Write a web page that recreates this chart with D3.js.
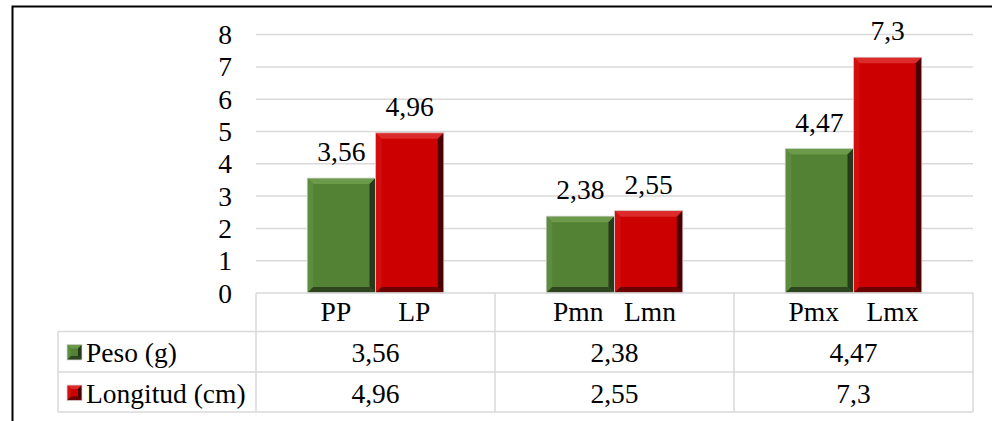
<!DOCTYPE html>
<html>
<head>
<meta charset="utf-8">
<script src="https://cdn.jsdelivr.net/npm/d3@7/dist/d3.min.js"></script>
<style>
  body { margin: 0; padding: 0; background: #fff; }
</style>
</head>
<body>
<div id="chart"></div>
<script>
// data
var categories = ["PP       LP", "Pmn   Lmn", "Pmx    Lmx"];
var seriesNames = ["Peso (g)", "Longitud (cm)"];
var peso = [3.56, 2.38, 4.47];
var longitud = [4.96, 2.55, 7.3];
var yTicks = [0, 1, 2, 3, 4, 5, 6, 7, 8];

var seriesValues = [peso, longitud];
var colors = [
  { face: "#548235", top: "#6b9a4b", left: "#5c8c3d", right: "#26391a", bottom: "#2e4620" },
  { face: "#cc0000", top: "#dd2a2a", left: "#d20e0e", right: "#4a0000", bottom: "#6a0000" }
];

var W = 992, H = 421;
var fs = 27.5;
var fontFam = "'Liberation Serif', 'Times New Roman', Times, 'DejaVu Serif', serif";
var fmt = function (v) { return String(v).replace(".", ","); };

var svg = d3.select("#chart").append("svg")
    .attr("width", W)
    .attr("height", H)
    .attr("font-family", fontFam)
    .style("font-family", fontFam);

// outer chart border (only left and top are inside the crop)
svg.append("path")
    .attr("d", "M12.5,421 L12.5,6.5 L992,6.5")
    .attr("fill", "none")
    .attr("stroke", "#000")
    .attr("stroke-width", 2);

var plotLeft = 256, plotRight = 973;
var y = d3.scaleLinear().domain([0, 8]).range([293, 34.6]);
var x0 = d3.scaleBand().domain(categories).range([plotLeft, plotRight]);
var x1 = d3.scaleBand().domain(seriesNames).range([0, x0.bandwidth()]).paddingOuter(0.75);

// gridlines
svg.append("g").selectAll("line")
    .data(yTicks.filter(function (t) { return t > 0; }))
    .enter().append("line")
    .attr("x1", plotLeft)
    .attr("x2", plotRight)
    .attr("y1", function (d) { return y(d); })
    .attr("y2", function (d) { return y(d); })
    .attr("stroke", "#d9d9d9")
    .attr("stroke-width", 1.5);

// y tick labels
svg.append("g").selectAll("text")
    .data(yTicks)
    .enter().append("text")
    .attr("x", 225)
    .attr("y", function (d) { return y(d) + 9.5; })
    .attr("text-anchor", "middle")
    .attr("font-size", fs)
    .text(function (d) { return d; });

// bevelled bar
function bevelBar(g, x, yy, w, h, c, b) {
    b = Math.min(b, h / 2, w / 2);
    g.append("rect").attr("x", x).attr("y", yy).attr("width", w).attr("height", h).attr("fill", c.face);
    var pts = function (a) { return a.map(function (p) { return p.join(","); }).join(" "); };
    g.append("polygon").attr("fill", c.top)
        .attr("points", pts([[x, yy], [x + w, yy], [x + w - b, yy + b], [x + b, yy + b]]));
    g.append("polygon").attr("fill", c.left)
        .attr("points", pts([[x, yy], [x + b, yy + b], [x + b, yy + h - b], [x, yy + h]]));
    g.append("polygon").attr("fill", c.right)
        .attr("points", pts([[x + w, yy], [x + w, yy + h], [x + w - b, yy + h - b], [x + w - b, yy + b]]));
    g.append("polygon").attr("fill", c.bottom)
        .attr("points", pts([[x, yy + h], [x + w, yy + h], [x + w - b, yy + h - b], [x + b, yy + h - b]]));
    g.append("rect").attr("x", x).attr("y", yy).attr("width", w).attr("height", h)
        .attr("fill", "none").attr("stroke", "#d9d9d9").attr("stroke-width", 0.8);
}

var bars = svg.append("g");
categories.forEach(function (cat, i) {
    seriesNames.forEach(function (s, j) {
        var v = seriesValues[j][i];
        var bx = x0(cat) + x1(s);
        var by = y(v);
        bevelBar(bars, bx, by, x1.bandwidth(), y(0) - by, colors[j], 6);
        bars.append("text")
            .attr("x", bx + x1.bandwidth() / 2)
            .attr("y", by - 17)
            .attr("text-anchor", "middle")
            .attr("font-size", fs)
            .text(fmt(v));
    });
});

// data table
var tableLeft = 58;
var rowTop = [293, 331.5, 372, 412];
var grid = svg.append("g")
    .attr("stroke", "#d9d9d9")
    .attr("stroke-width", 1.5)
    .attr("fill", "none");

grid.append("line").attr("x1", plotLeft).attr("x2", plotRight).attr("y1", rowTop[0]).attr("y2", rowTop[0]);
[1, 2, 3].forEach(function (r) {
    grid.append("line").attr("x1", tableLeft).attr("x2", plotRight).attr("y1", rowTop[r]).attr("y2", rowTop[r]);
});
grid.append("line").attr("x1", tableLeft).attr("x2", tableLeft).attr("y1", rowTop[1]).attr("y2", rowTop[3]);
x0.domain().map(function (c) { return x0(c); }).concat([plotRight]).forEach(function (xv) {
    grid.append("line").attr("x1", xv).attr("x2", xv).attr("y1", rowTop[0]).attr("y2", rowTop[3]);
});

// category labels
svg.append("g").selectAll("text")
    .data(categories)
    .enter().append("text")
    .attr("x", function (d) { return x0(d) + x0.bandwidth() / 2; })
    .attr("y", 321)
    .attr("text-anchor", "middle")
    .attr("font-size", fs)
    .style("white-space", "pre")
    .attr("xml:space", "preserve")
    .text(function (d) { return d; });

// table rows
seriesNames.forEach(function (s, j) {
    var ry = rowTop[j + 1];
    var g = svg.append("g");
    bevelBar(g, 67, ry + 13, 15, 15.5, colors[j], 4);
    g.append("text")
        .attr("x", 86)
        .attr("y", ry + 30.5)
        .attr("font-size", fs)
        .text(s);
    g.selectAll("text.val")
        .data(seriesValues[j])
        .enter().append("text")
        .attr("class", "val")
        .attr("x", function (d, i) { return x0(categories[i]) + x0.bandwidth() / 2; })
        .attr("y", ry + 30.5)
        .attr("text-anchor", "middle")
        .attr("font-size", fs)
        .text(fmt);
});
</script>
</body>
</html>
